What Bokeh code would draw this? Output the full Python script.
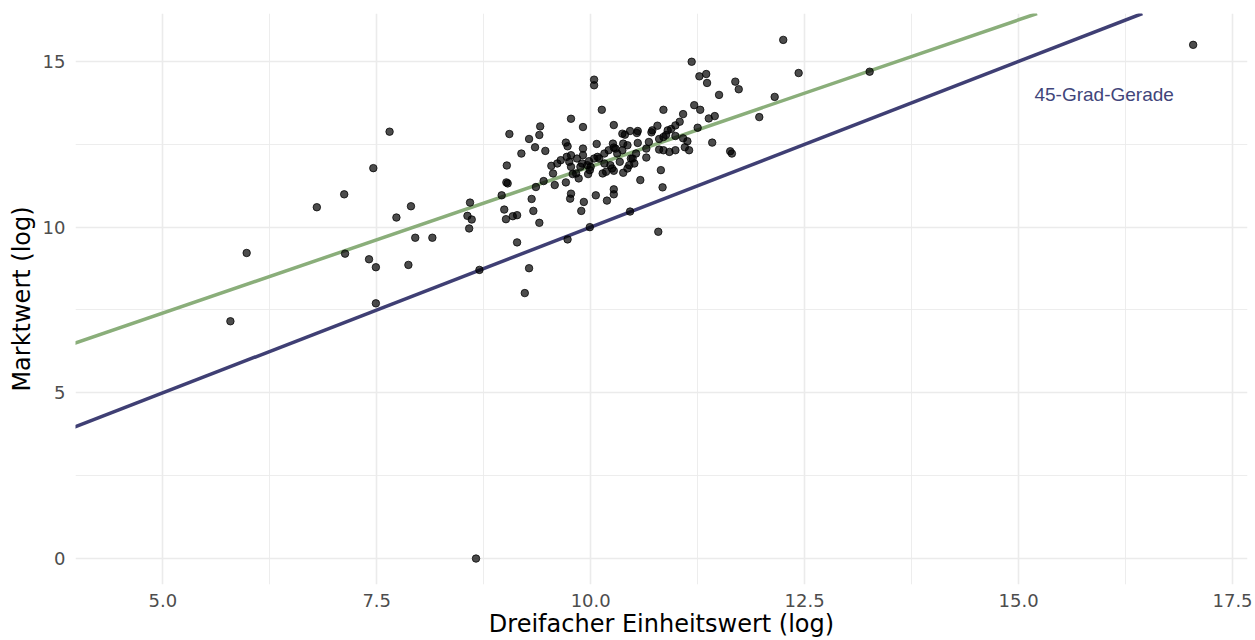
from bokeh.plotting import figure
from bokeh.models import Slope, FixedTicker, Range1d
from bokeh.embed import file_html
from bokeh.resources import INLINE
from bokeh.core.properties import value

# ---------------- data ----------------
einheitswert_log = [
    7.65, 7.46, 7.12, 6.80, 7.73, 7.90, 8.59, 8.56, 8.61, 8.58, 7.95, 8.15, 5.98, 7.13,
    7.41, 7.49, 7.87, 7.49, 5.79, 8.70, 8.66, 9.28, 9.23,
    11.18, 11.27, 11.35, 11.36, 11.69, 11.73, 11.50, 10.04, 10.04, 10.13, 11.21, 11.28,
    10.85, 11.08, 11.38, 11.45, 9.77, 9.91, 9.41, 9.40, 9.05, 9.28, 10.27, 11.25, 11.04,
    10.99, 10.94, 10.90, 10.78, 10.72, 10.71, 10.37, 10.40, 10.46, 10.55, 10.54, 9.71,
    9.73, 9.35, 9.47, 9.19, 9.91, 10.07, 10.26, 10.27, 10.38, 10.43, 10.55, 10.68, 10.80,
    10.85, 10.88, 10.99, 11.08, 11.13, 11.15, 11.10, 11.42, 11.63, 11.65, 11.97, 10.80,
    10.85, 10.92, 10.99, 10.65, 10.65, 10.53, 10.47, 10.37, 10.31, 10.29, 10.21, 10.16,
    10.08, 10.04, 10.10, 9.98, 10.00, 9.91, 9.84, 9.77, 9.75, 9.72, 9.65, 9.61, 9.54,
    9.77, 9.88, 9.90, 9.96, 9.83, 9.79, 9.86, 9.97, 9.99, 10.14, 10.18, 10.25, 10.27,
    10.23, 10.16, 10.38, 10.43, 10.45, 10.49, 10.51, 9.56, 9.58, 9.71, 9.45, 9.36, 9.02,
    9.015, 9.03, 8.96, 9.31, 9.33, 8.99, 9.01, 9.09, 9.14, 9.40, 9.14, 9.73, 9.77, 9.76,
    9.92, 9.89, 10.06, 10.19, 10.27, 10.27, 10.58, 10.82, 10.84, 10.46, 9.99, 10.79,
    12.25, 12.43, 13.26, 12.15, 17.04, 10.34,
]
marktwert_log = [
    12.88, 11.78, 10.99, 10.60, 10.29, 10.63, 10.74, 10.34, 10.23, 9.96, 9.68, 9.68, 9.22, 9.20,
    9.03, 8.79, 8.86, 7.70, 7.16, 8.71, 0.00, 8.76, 8.01,
    14.99, 14.55, 14.62, 14.35, 14.39, 14.16, 13.99, 14.45, 14.28, 13.54, 13.68, 13.54,
    13.54, 13.41, 13.28, 13.35, 13.27, 13.02, 13.04, 12.78, 12.81, 12.66, 13.08, 13.00, 13.18,
    13.07, 12.96, 12.92, 13.06, 12.92, 12.86, 12.82, 12.79, 12.90, 12.90, 12.84, 12.55,
    12.44, 12.41, 12.30, 12.22, 12.37, 12.51, 12.52, 12.40, 12.52, 12.47, 12.54, 12.57, 12.66,
    12.72, 12.78, 12.75, 12.68, 12.59, 12.32, 12.41, 12.55, 12.29, 12.22, 13.32, 12.34,
    12.32, 12.27, 12.32, 12.37, 12.10, 12.22, 12.07, 12.32, 12.22, 12.37, 12.32, 12.22,
    12.12, 12.07, 12.07, 11.99, 11.82, 12.17, 12.07, 12.17, 11.97, 12.12, 12.02, 11.92, 11.85,
    11.82, 11.82, 11.92, 11.87, 11.62, 11.60, 11.47, 11.60, 11.72, 11.62, 11.67, 11.77, 11.70,
    11.87, 11.92, 11.64, 11.77, 11.87, 12.07, 11.92, 11.62, 11.27, 11.35, 11.39, 11.21, 11.86,
    11.35, 11.32, 10.96, 10.85, 10.49, 10.53, 10.24, 10.33, 10.36, 10.13, 9.54, 9.63, 11.01, 10.86,
    10.76, 10.49, 10.96, 10.80, 11.14, 10.99, 11.42, 11.72, 11.20, 10.47, 10.00, 9.86,
    15.65, 14.65, 14.69, 13.93, 15.50, 11.97,
]

# regression line (green) and 45-degree line (blue)
fit_intercept = 2.98
fit_slope = 0.885
diag_intercept = 0.0
diag_slope = 1.0

annot_x = [16.0]
annot_y = [14.0]
annot_text = ["45-Grad-Gerade"]

x_ticks = [5.0, 7.5, 10.0, 12.5, 15.0, 17.5]
x_tick_labels = ["5.0", "7.5", "10.0", "12.5", "15.0", "17.5"]
x_minor = [3.75, 6.25, 8.75, 11.25, 13.75, 16.25]
y_ticks = [0, 5, 10, 15]
y_tick_labels = ["0", "5", "10", "15"]
y_minor = [2.5, 7.5, 12.5]

# ---------------- figure ----------------
p = figure(width=1255, height=640, output_backend="svg", toolbar_location=None,
           x_range=Range1d(3.98, 17.675), y_range=Range1d(-0.783, 16.446),
           min_border_left=75, min_border_right=8, min_border_top=13, min_border_bottom=55)
p.outline_line_color = None
p.background_fill_color = "white"
p.border_fill_color = "white"

p.xaxis.ticker = FixedTicker(ticks=x_ticks, minor_ticks=x_minor)
p.yaxis.ticker = FixedTicker(ticks=y_ticks, minor_ticks=y_minor)
p.xaxis.major_label_overrides = {t: l for t, l in zip(x_ticks, x_tick_labels)}
p.yaxis.major_label_overrides = {t: l for t, l in zip(y_ticks, y_tick_labels)}

for ax in (p.xaxis, p.yaxis):
    ax.axis_line_color = None
    ax.major_tick_line_color = None
    ax.minor_tick_line_color = None
    ax.major_label_text_color = "#4d4d4d"
    ax.major_label_text_font = "DejaVu Sans"
    ax.major_label_text_font_size = "18px"
    ax.axis_label_text_font = "DejaVu Sans"
    ax.axis_label_text_font_size = "24px"
    ax.axis_label_text_font_style = "normal"
    ax.axis_label_text_color = "black"

p.xaxis.axis_label = "Dreifacher Einheitswert (log)"
p.yaxis.axis_label = "Marktwert (log)"
p.xaxis.major_label_standoff = 3
p.xaxis.axis_label_standoff = 0
p.yaxis.major_label_standoff = 4
p.yaxis.axis_label_standoff = 4

for g in (p.xgrid, p.ygrid):
    g.grid_line_color = "#ebebeb"
    g.grid_line_width = 1.6
    g.minor_grid_line_color = "#ebebeb"
    g.minor_grid_line_width = 0.9

p.add_layout(Slope(gradient=fit_slope, y_intercept=fit_intercept,
                   line_color="#8aae7a", line_width=3.5, level="underlay"))
p.add_layout(Slope(gradient=diag_slope, y_intercept=diag_intercept,
                   line_color="#3f3f74", line_width=3.5, level="underlay"))

p.scatter(einheitswert_log, marktwert_log, size=7.5, fill_color="black", fill_alpha=0.7,
          line_color="black", line_alpha=0.75, line_width=1)

p.text(x=annot_x, y=annot_y, text=annot_text, text_font=value("Liberation Sans"),
       text_font_size="19px", text_color="#41457a", text_align="center",
       text_baseline="middle")

open("out.html", "w").write(file_html(p, INLINE))
